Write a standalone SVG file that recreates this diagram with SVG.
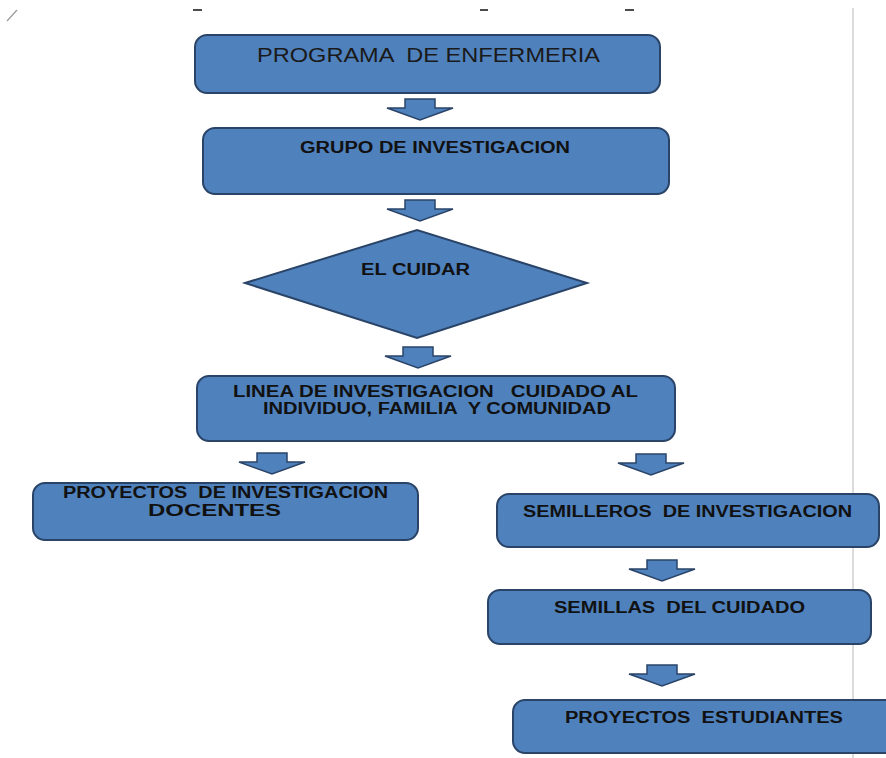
<svg xmlns="http://www.w3.org/2000/svg" width="886" height="758" viewBox="0 0 886 758" xml:space="preserve">
<style>
.box{fill:#4F81BD;stroke:#2A4468;stroke-width:2}
.arr{fill:#4F81BD;stroke:#2A4468;stroke-width:1.5;stroke-linejoin:miter}
.t{font-family:"Liberation Sans",Arial,sans-serif;font-size:16px;font-weight:bold;fill:#111;white-space:pre}
.tn{font-family:"Liberation Sans",Arial,sans-serif;font-size:20px;fill:#1a1a1a;white-space:pre}
</style>
<rect width="886" height="758" fill="#ffffff"/>
<g id="decor">
<line x1="853" y1="8" x2="853" y2="758" stroke="#c4c4c4" stroke-width="1.2"/>
<line x1="7" y1="21" x2="17" y2="10" stroke="#999" stroke-width="1.2"/>
<line x1="193" y1="10" x2="202" y2="10" stroke="#111" stroke-width="1.5"/>
<line x1="480" y1="10" x2="488" y2="10" stroke="#111" stroke-width="1.5"/>
<line x1="625" y1="10" x2="634" y2="10" stroke="#111" stroke-width="1.5"/>
</g>
<g id="connectors">
<path class="arr" d="M405,99 H435 V108 H453 L420,120 L387,108 H405 Z"/>
<path class="arr" d="M405,200 H435 V209 H453 L420,221 L387,209 H405 Z"/>
<path class="arr" d="M403,347 H433 V356 H451 L418,368 L385,356 H403 Z"/>
<path class="arr" d="M257,453 H287 V462 H305 L272,474 L239,462 H257 Z"/>
<path class="arr" d="M636,454 H666 V463 H684 L651,475 L618,463 H636 Z"/>
<path class="arr" d="M647,560 H677 V569 H695 L662,581 L629,569 H647 Z"/>
<path class="arr" d="M647,665 H677 V674 H695 L662,686 L629,674 H647 Z"/>
</g>
<g id="programa">
<rect class="box" x="195" y="35" width="465" height="58" rx="12"/>
<text class="tn" x="257" y="62" textLength="343" lengthAdjust="spacingAndGlyphs">PROGRAMA  DE ENFERMERIA</text>
</g>
<g id="grupo">
<rect class="box" x="203" y="128" width="466" height="66" rx="12"/>
<text class="t" x="300" y="153" textLength="270" lengthAdjust="spacingAndGlyphs">GRUPO DE INVESTIGACION</text>
</g>
<g id="cuidar">
<polygon class="box" points="245,283 417,230 587,283 417,338"/>
<text class="t" x="361" y="275" textLength="109" lengthAdjust="spacingAndGlyphs">EL CUIDAR</text>
</g>
<g id="linea">
<rect class="box" x="197" y="376" width="478" height="65" rx="12"/>
<text class="t" x="233" y="397" textLength="405" lengthAdjust="spacingAndGlyphs">LINEA DE INVESTIGACION   CUIDADO AL</text>
<text class="t" x="263" y="414" textLength="348" lengthAdjust="spacingAndGlyphs">INDIVIDUO, FAMILIA  Y COMUNIDAD</text>
</g>
<g id="docentes">
<rect class="box" x="33" y="483" width="385" height="57" rx="12"/>
<text class="t" x="63" y="498" textLength="325" lengthAdjust="spacingAndGlyphs">PROYECTOS  DE INVESTIGACION</text>
<text class="t" x="148" y="516" textLength="133" lengthAdjust="spacingAndGlyphs">DOCENTES</text>
</g>
<g id="semilleros">
<rect class="box" x="497" y="494" width="382" height="53" rx="12"/>
<text class="t" x="523" y="517" textLength="329" lengthAdjust="spacingAndGlyphs">SEMILLEROS  DE INVESTIGACION</text>
</g>
<g id="semillas">
<rect class="box" x="488" y="590" width="383" height="54" rx="12"/>
<text class="t" x="554" y="613" textLength="251" lengthAdjust="spacingAndGlyphs">SEMILLAS  DEL CUIDADO</text>
</g>
<g id="estudiantes">
<rect class="box" x="513" y="700" width="385" height="53" rx="12"/>
<text class="t" x="565" y="723" textLength="278" lengthAdjust="spacingAndGlyphs">PROYECTOS  ESTUDIANTES</text>
</g>
</svg>
